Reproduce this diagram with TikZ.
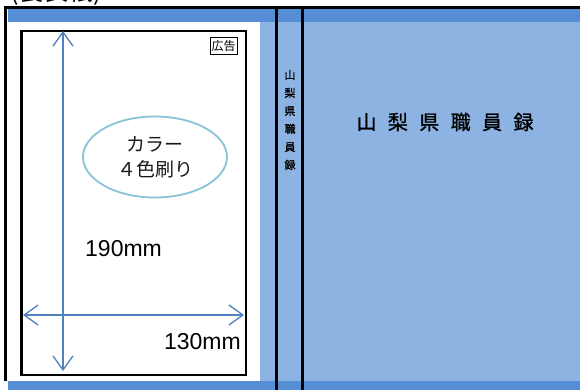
\documentclass[tikz,border=0pt]{standalone}
\usepackage{fontspec}
\setmainfont{Liberation Sans}
\newfontfamily\jp{Noto Sans CJK JP}
\newfontfamily\jpheavy[FakeBold=1.2]{Noto Sans CJK JP}
\usetikzlibrary{arrows.meta,shapes.geometric}
\definecolor{bandblue}{RGB}{85,142,213}
\definecolor{coverblue}{RGB}{141,179,226}
\definecolor{arrowblue}{RGB}{79,129,189}
\definecolor{ringblue}{RGB}{135,196,216}

\begin{document}
\begin{tikzpicture}[x=1pt,y=-1pt,
    dim/.style={arrowblue,line width=1.3pt,{Straight Barb[length=14pt,width=20pt]}-{Straight Barb[length=14pt,width=20pt]}},
    rule/.style={line width=3pt},
    jtext/.style={inner sep=0pt}]
    \clip (0,0) rectangle (580,390);
    \fill[white] (0,0) rectangle (580,390);
    % cover and bands
    \fill[coverblue] (260,22) rectangle (580,381);
    \fill[bandblue] (8,9) rectangle (580,22);
    \fill[bandblue] (8,381) rectangle (580,390);
    \draw[rule] (5.5,381) -- (5.5,7.5) -- (580,7.5);
    \draw[rule] (276.5,7.5) -- (276.5,390);
    \draw[rule] (302.5,7.5) -- (302.5,390);
    % advert page
    \draw[line width=2.5pt] (21.5,31) rectangle (246,375);
    \node[jtext,anchor=base west,font=\jp\fontsize{25}{25}\selectfont] (heading) at (10,1) {(裏表紙)};
    \node[draw,line width=0.8pt,inner sep=1.5pt,minimum height=17pt,font=\jp\fontsize{12}{12}\selectfont] (ad) at (223.5,45.5) {広告};
    \coordinate (htop) at (63,31);
    \coordinate (hbot) at (63,371);
    \coordinate (wleft) at (23,315);
    \coordinate (wright) at (244,315);
    \draw[dim] (htop) -- (hbot);
    \draw[dim] (wleft) -- (wright);
    \node[ellipse,draw=ringblue,line width=1.8pt,minimum width=144pt,minimum height=81pt,align=center,text=black!90,font=\jp\fontsize{19}{25}\selectfont] (colour) at (155,157) {カラー\\４色刷り};
    \node[jtext,anchor=base west,font=\fontsize{23}{23}\selectfont] (height) at (85,256) {190mm};
    \node[jtext,anchor=base east,font=\fontsize{23}{23}\selectfont] (width) at (241,349) {130mm};
    % spine and front cover
    \node[jtext,align=center,font=\jpheavy\fontsize{11}{18}\selectfont] (spine) at (290,120) {山\\梨\\県\\職\\員\\録};
    \node[jtext,font=\jpheavy\fontsize{20}{20}\selectfont] (title) at (445,122) {山\hspace{11.4pt}梨\hspace{11.4pt}県\hspace{11.4pt}職\hspace{11.4pt}員\hspace{11.4pt}録};
\end{tikzpicture}
\end{document}
